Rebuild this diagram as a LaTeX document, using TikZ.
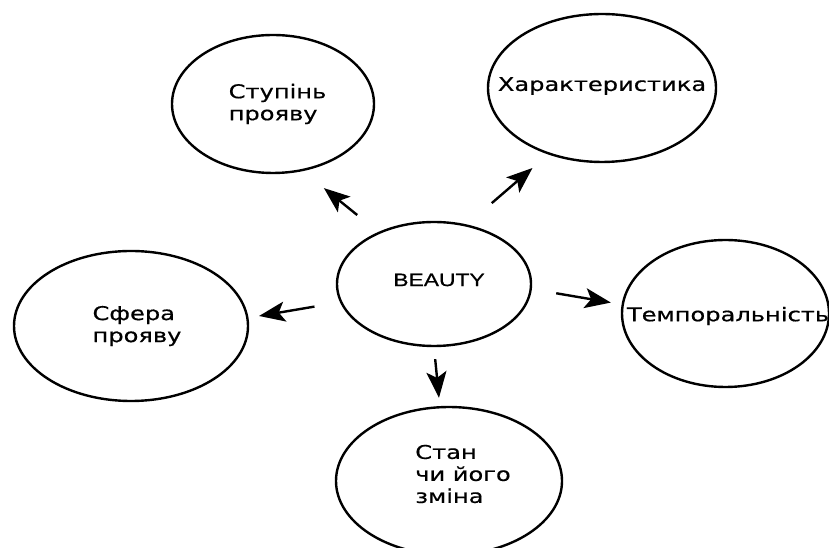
\documentclass[tikz,border=0pt]{standalone}
\usepackage{fontspec}
\setmainfont{DejaVu Sans}[FakeStretch=1.27,FakeBold=0.5]
\newfontfamily\beautyfont{Liberation Sans}[FakeStretch=1.27,FakeBold=0.5]
\usetikzlibrary{shapes.geometric,arrows.meta}

\tikzset{
  bubble/.style={draw, ellipse, line width=2.4pt, inner sep=0pt},
  txt/.style={align=left, inner sep=0pt, font={\fontsize{19}{22}\selectfont}},
  link/.style={-{Stealth[length=26pt,width=20pt,inset=6pt]}, line width=2.4pt},
}

\begin{document}
\begin{tikzpicture}[x=1pt,y=1pt]
  \useasboundingbox (0,0) rectangle (829,548);
  \clip (0,0) rectangle (829,548);

  % centre and the five round it
  \node[bubble, minimum width=194pt, minimum height=124pt] (beauty) at (434,264) {};
  \node[bubble, minimum width=202pt, minimum height=138pt] (stupin) at (273,444) {};
  \node[bubble, minimum width=228pt, minimum height=148pt] (harakt) at (602,460) {};
  \node[bubble, minimum width=234pt, minimum height=150pt] (sfera)  at (131,222) {};
  \node[bubble, minimum width=207pt, minimum height=147pt] (temp)   at (725.5,234.5) {};
  \node[bubble, minimum width=226pt, minimum height=148pt] (stan)   at (449,67) {};

  % texts
  \node[txt, font={\beautyfont\fontsize{18}{20}\selectfont}] (beauty-t) at ([shift={(5,4)}]beauty.center) {BEAUTY};
  \node[txt] (stupin-t) at ([shift={(4.5,0)}]stupin.center) {Ступінь\\прояву};
  \node[txt] (harakt-t) at ([shift={(0,2)}]harakt.center) {Характеристика};
  \node[txt] (sfera-t)  at ([shift={(6,0)}]sfera.center) {Сфера\\прояву};
  \node[txt] (temp-t)   at ([shift={(2.5,-2.5)}]temp.center) {Темпоральність};
  \node[txt] (stan-t)   at ([shift={(14,7)}]stan.center) {Стан\\чи його\\зміна};

  % arrows out of the centre
  \draw[link, shorten <=27pt, shorten >=27pt] (beauty.137) -- (stupin.294);
  \draw[link, shorten <=32.7pt, shorten >=20.7pt] (beauty.61) -- (harakt.231);
  \draw[link, shorten <=25.9pt, shorten >=10.7pt] (beauty.191) -- (sfera.4);
  \draw[link, shorten <=12pt, shorten >=8.3pt] (beauty.270) -- (stan.97);
  \draw[link, shorten <=24.7pt, shorten >=10.9pt] (beauty.357) -- (temp.175);
\end{tikzpicture}
\end{document}
